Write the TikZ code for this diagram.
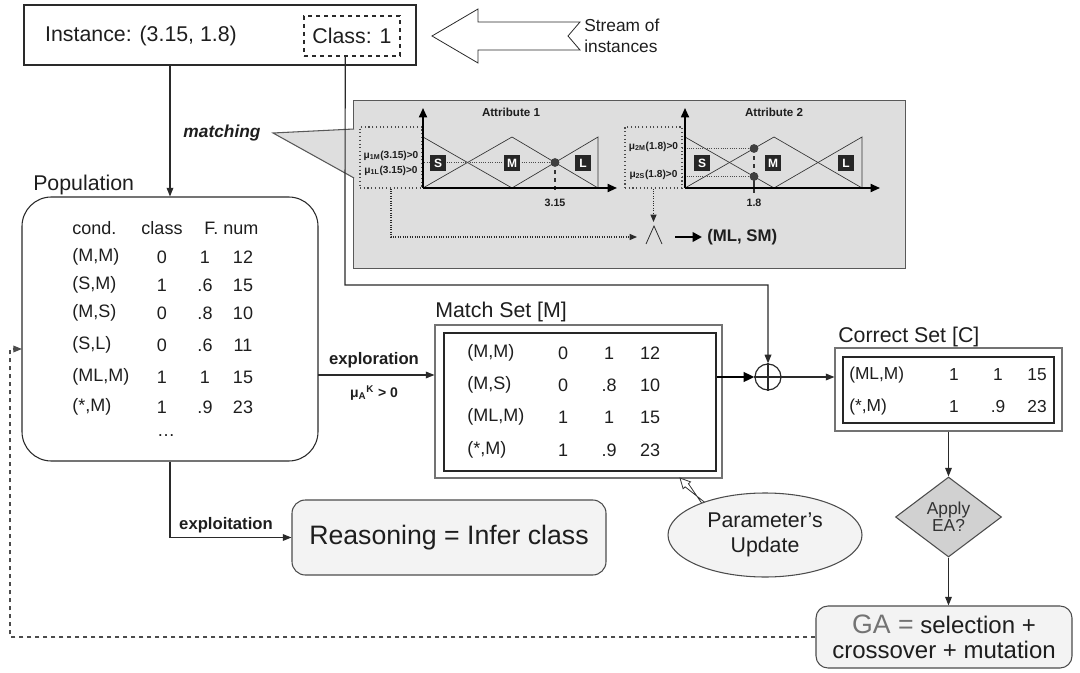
\documentclass[tikz,border=0pt]{standalone}
\usepackage{fontspec}
\setmainfont{Liberation Sans}
\usetikzlibrary{arrows.meta,shapes.geometric,calc}
\newcommand\fz[2]{\fontsize{#1}{#2}\selectfont}
\definecolor{txt}{HTML}{1E1E1E}
\definecolor{ln}{HTML}{2A2A2A}
\definecolor{gfill}{HTML}{DEDEDE}
\definecolor{lfill}{HTML}{F3F3F3}
\begin{document}
\begin{tikzpicture}[x=0.75pt,y=-0.75pt,
  every node/.style={text=txt},
  arr/.style={draw=ln, line width=0.9pt, -{Triangle[length=6.5pt,width=5pt]}},
  dotarr/.style={draw=ln, densely dotted, line width=0.8pt, -{Triangle[length=5.5pt,width=4.5pt]}},
  axisarr/.style={draw=black, line width=1.3pt, -{Triangle[length=7pt,width=6pt]}},
  mf/.style={draw=black!80, line width=0.5pt},
  mflab/.style={fill=black!85, text=white, font=\bfseries\fz{9}{10}, minimum size=12.5pt, inner sep=0pt},
  mutxt/.style={font=\bfseries\fz{7.6}{9}, inner sep=0pt},
  small/.style={font=\bfseries\fz{8}{9}, inner sep=0pt},
  cell/.style={font=\fz{13.5}{16}, inner sep=0pt},
  ccell/.style={font=\fz{13}{15}, inner sep=0pt},
  title/.style={font=\fz{16}{19}, inner sep=0pt, anchor=west},
  lbl/.style={font=\bfseries\fz{12.5}{15}, inner sep=0pt}
]
\useasboundingbox (0,0) rectangle (1080,673);

% ---------- top instance box
\node[draw=ln, line width=0.9pt, minimum width=294pt, minimum height=45pt, inner sep=0pt] (top) at (220,35) {};
\node[font=\fz{16}{19}, inner sep=0pt] (inst) at (141,36) {Instance: (3.15, 1.8)};
\node[draw=ln, dashed, line width=1pt, minimum width=72pt, minimum height=30pt, inner sep=0pt, font=\fz{16}{19}] (cls) at (352,36) {Class: 1};

% stream arrow
\draw[ln, line width=0.6pt, fill=white] (432,36) -- (478,9) -- (478,22) -- (580,22) -- (568,36) -- (580,50) -- (478,50) -- (478,63) -- cycle;
\node[anchor=west, align=left, font=\fz{13}{16}, inner sep=0pt] (stream) at (584,36) {Stream of\\instances};

% ---------- population
\node[draw=ln, line width=0.8pt, rounded corners=22pt, minimum width=222pt, minimum height=198pt, fill=white] (pop) at (170,329) {};
\node[title] (poplbl) at (33,185) {Population};
\node[cell, anchor=west] (h1) at (72,228) {cond.};
\node[cell] (h2) at (162,228) {class};
\node[cell, anchor=west] (h3) at (204,228) {F. num};
\foreach \y/\a/\b/\c/\d [count=\i] in {257/{(M,M)}/0/1/12, 285/{(S,M)}/1/.6/15, 313/{(M,S)}/0/.8/10, 345/{(S,L)}/0/.6/11, 377/{(ML,M)}/1/1/15, 407/{(*,M)}/1/.9/23}{
  \node[cell, anchor=west] (pa\i) at (72,\y) {\a};
  \node[cell] (pb\i) at (162,\y) {\b};
  \node[cell] (pc\i) at (205,\y) {\c};
  \node[cell] (pd\i) at (243,\y) {\d};
}
\node[cell] (pdots) at (166,436) {\ldots};

% arrow top -> population
\draw[arr] (top.south -| pop.north) -- (pop.north);

% ---------- matching gray box
\node[draw=black!65, line width=0.8pt, fill=gfill, minimum width=414pt, minimum height=126pt, inner sep=0pt, anchor=north west] (gbox) at (353,100) {};
\coordinate (mtip) at (273,133);
\fill[gfill] (mtip) -- (354,129) -- (354,178) -- cycle;
\draw[black!65, line width=0.8pt] (354,129) -- (mtip) -- (354,178);
\node[font=\bfseries\itshape\fz{13}{15}, inner sep=0pt] (matching) at (222,133) {matching};

% attribute 1
\node[draw=black!70, dotted, line width=0.8pt, minimum width=46.5pt, minimum height=45.75pt, inner sep=0pt] (db1) at (391,157.5) {};
\node[mutxt] (mu1a) at (391,156) {μ\textsubscript{1M}(3.15)>0};
\node[mutxt] (mu1b) at (391,171) {μ\textsubscript{1L}(3.15)>0};
\draw[mf] (423,137) -- (512,188);
\draw[mf] (423,188) -- (512,137) -- (598,188);
\draw[mf] (512,188) -- (598,137) -- (598,188);
\draw[black!70, densely dotted, line width=0.7pt] (422,162.5) -- (555,162.5);
\draw[black!80, dashed, line width=1pt] (555,162.5) -- (555,193);
\draw[axisarr] (423,188) -- (423,108);
\draw[axisarr] (423,188) -- (617,188);
\fill[black!75] (555,162.5) circle (3.3pt);
\node[mflab] (s1) at (438,163) {S};
\node[mflab] (m1) at (512,163) {M};
\node[mflab] (l1) at (583,163) {L};
\node[small] (v1) at (555,203) {3.15};
\node[font=\bfseries\fz{8.7}{10}, inner sep=0pt] (att1) at (511,112) {Attribute 1};

% attribute 2
\node[draw=black!70, dotted, line width=0.8pt, minimum width=42.75pt, minimum height=45.75pt, inner sep=0pt] (db2) at (653.5,157.5) {};
\node[mutxt] (mu2a) at (653.5,147) {μ\textsubscript{2M}(1.8)>0};
\node[mutxt] (mu2b) at (653.5,175) {μ\textsubscript{2S}(1.8)>0};
\draw[mf] (685,137) -- (774,188);
\draw[mf] (685,188) -- (774,137) -- (862,188);
\draw[mf] (774,188) -- (862,137) -- (862,188);
\draw[black!70, densely dotted, line width=0.7pt] (682,148.5) -- (754,148.5);
\draw[black!70, densely dotted, line width=0.7pt] (682,176.5) -- (754,176.5);
\draw[black!80, dashed, line width=1pt] (754,148.5) -- (754,176.5);
\draw[black!80, line width=0.8pt] (754,176.5) -- (754,193);
\draw[axisarr] (685,188) -- (685,108);
\draw[axisarr] (685,188) -- (880,188);
\fill[black!75] (754,148.5) circle (3.3pt);
\fill[black!75] (754,176.5) circle (3.3pt);
\node[mflab] (s2) at (702,163) {S};
\node[mflab] (m2) at (773,163) {M};
\node[mflab] (l2) at (846,163) {L};
\node[small] (v2) at (754,203) {1.8};
\node[font=\bfseries\fz{8.7}{10}, inner sep=0pt] (att2) at (774,112) {Attribute 2};

% AND combination
\coordinate (andL) at (637,237);
\coordinate (andT) at (653.5,222);
\draw[dotarr] (db1.south) |- (andL);
\draw[dotarr] (db2.south) -- (andT);
\draw[black!80, line width=0.6pt] (646,244) -- (654,226) -- (662,244);
\coordinate (res0) at (675,237);
\coordinate (res1) at (702,237);
\draw[line width=2.2pt, -{Triangle[length=7pt,width=7pt]}] (res0) -- (res1);
\node[anchor=west, font=\bfseries\fz{12.6}{15}, inner sep=0pt] (mlsm) at (707,237) {(ML, SM)};

% ---------- match set
\node[title] (mslbl) at (435,312) {Match Set [M]};
\node[draw=black!55, line width=0.8pt, fill=white, minimum width=215.25pt, minimum height=114.75pt, inner sep=0pt] (ms) at (578.5,401.5) {};
\node[draw=black!85, line width=1.2pt, minimum width=204pt, minimum height=103.5pt, inner sep=0pt] (msin) at (580,402) {};
\foreach \y/\a/\b/\c/\d [count=\i] in {353/{(M,M)}/0/1/12, 385/{(M,S)}/0/.8/10, 417/{(ML,M)}/1/1/15, 450/{(*,M)}/1/.9/23}{
  \node[cell, anchor=west] (ma\i) at (467,\y) {\a};
  \node[cell] (mb\i) at (563,\y) {\b};
  \node[cell] (mc\i) at (609,\y) {\c};
  \node[cell] (md\i) at (650,\y) {\d};
}

% exploration
\coordinate (ex1) at (318,375);
\draw[arr] (ex1) -- (ex1 -| ms.west);
\node[lbl] (explo) at (374,360) {exploration};
\node[font=\bfseries\fz{10.5}{12}, inner sep=0pt] (mua) at (374,393) {μ\textsubscript{A}\textsuperscript{K} > 0};

% class line to oplus
\node[circle, draw=ln, line width=0.9pt, minimum size=19.5pt, inner sep=0pt, fill=white] (plus) at (768,377) {};
\draw[ln, line width=0.8pt] (plus.north) -- (plus.south);
\draw[ln, line width=0.8pt] (plus.west) -- (plus.east);
\coordinate (cb) at ($(cls.south west)!0.43!(cls.south east)$);
\coordinate (cturn) at (345,285);
\draw[arr] (cb) -- (cturn) -| (plus.north);
\draw[draw=black, line width=2pt, -{Triangle[length=8pt,width=7pt]}] (plus -| msin.east) -- (plus.west);

% ---------- correct set
\node[title] (cslbl) at (838,337) {Correct Set [C]};
\node[draw=black!55, line width=0.8pt, fill=white, minimum width=170.25pt, minimum height=62.25pt, inner sep=0pt] (cs) at (948.5,389.5) {};
\node[draw=black!85, line width=1.2pt, minimum width=158.25pt, minimum height=49.5pt, inner sep=0pt] (csin) at (948.5,390) {};
\foreach \y/\a/\b/\c/\d [count=\i] in {375/{(ML,M)}/1/1/15, 407/{(*,M)}/1/.9/23}{
  \node[ccell, anchor=west] (ca\i) at (849,\y) {\a};
  \node[ccell] (cb\i) at (954,\y) {\b};
  \node[ccell] (cc\i) at (998,\y) {\c};
  \node[ccell] (cd\i) at (1037,\y) {\d};
}
\draw[arr] (plus.east) -- (plus -| cs.west);

% ---------- diamond and GA
\node[diamond, draw=black!70, line width=0.8pt, fill=black!18, aspect=1.33, inner sep=0pt, minimum width=79.5pt, minimum height=60pt, align=center, font=\fz{13}{13}, text=black!80] (dia) at (948.5,517) {Apply\\EA?};
\draw[arr] (cs.south) -- (dia.north);
\node[draw=black!70, line width=0.8pt, fill=lfill, rounded corners=9pt, minimum width=192pt, minimum height=46.5pt, inner sep=0pt, align=center, font=\fz{18}{19}] (ga) at (944,637) {{\color{black!55}\fz{20}{19}GA =} selection +\\crossover + mutation};
\draw[arr] (dia.south) -- (dia.south |- ga.north);

% feedback dashed
\coordinate (fbx) at (10,349);
\coordinate (fb) at (22,349);
\draw[arr, dashed, draw=black!70] (ga.west) -| (fbx) -- (fb);

% ---------- exploitation / reasoning
\node[draw=black!70, line width=0.8pt, fill=lfill, rounded corners=10pt, minimum width=235.5pt, minimum height=56.25pt, inner sep=0pt, font=\fz{20}{24}] (reason) at (449,537.5) {Reasoning = Infer class};
\draw[arr] (pop.south) |- (reason.west);
\node[lbl] (exploit) at (226,525) {exploitation};

% ---------- parameter's update
\coordinate (pu0) at (707,507);
\coordinate (pu1) at (680,478);
\coordinate (puB) at ($(pu1)!7.5pt!(pu0)$);
\draw[black!80, line width=0.6pt, fill=white]
  ($(pu0)!1.7pt!90:(pu1)$) -- ($(puB)!1.7pt!-90:(pu1)$) -- ($(puB)!3.8pt!-90:(pu1)$) -- (pu1)
  -- ($(puB)!3.8pt!90:(pu1)$) -- ($(puB)!1.7pt!90:(pu1)$) -- ($(pu0)!1.7pt!-90:(pu1)$) -- cycle;
\node[ellipse, draw=black!70, line width=0.8pt, fill=lfill, minimum width=145.5pt, minimum height=63pt, inner sep=0pt, align=center, font=\fz{16}{19}] (pupd) at (765,535) {Parameter's\\Update};

\end{tikzpicture}
\end{document}
